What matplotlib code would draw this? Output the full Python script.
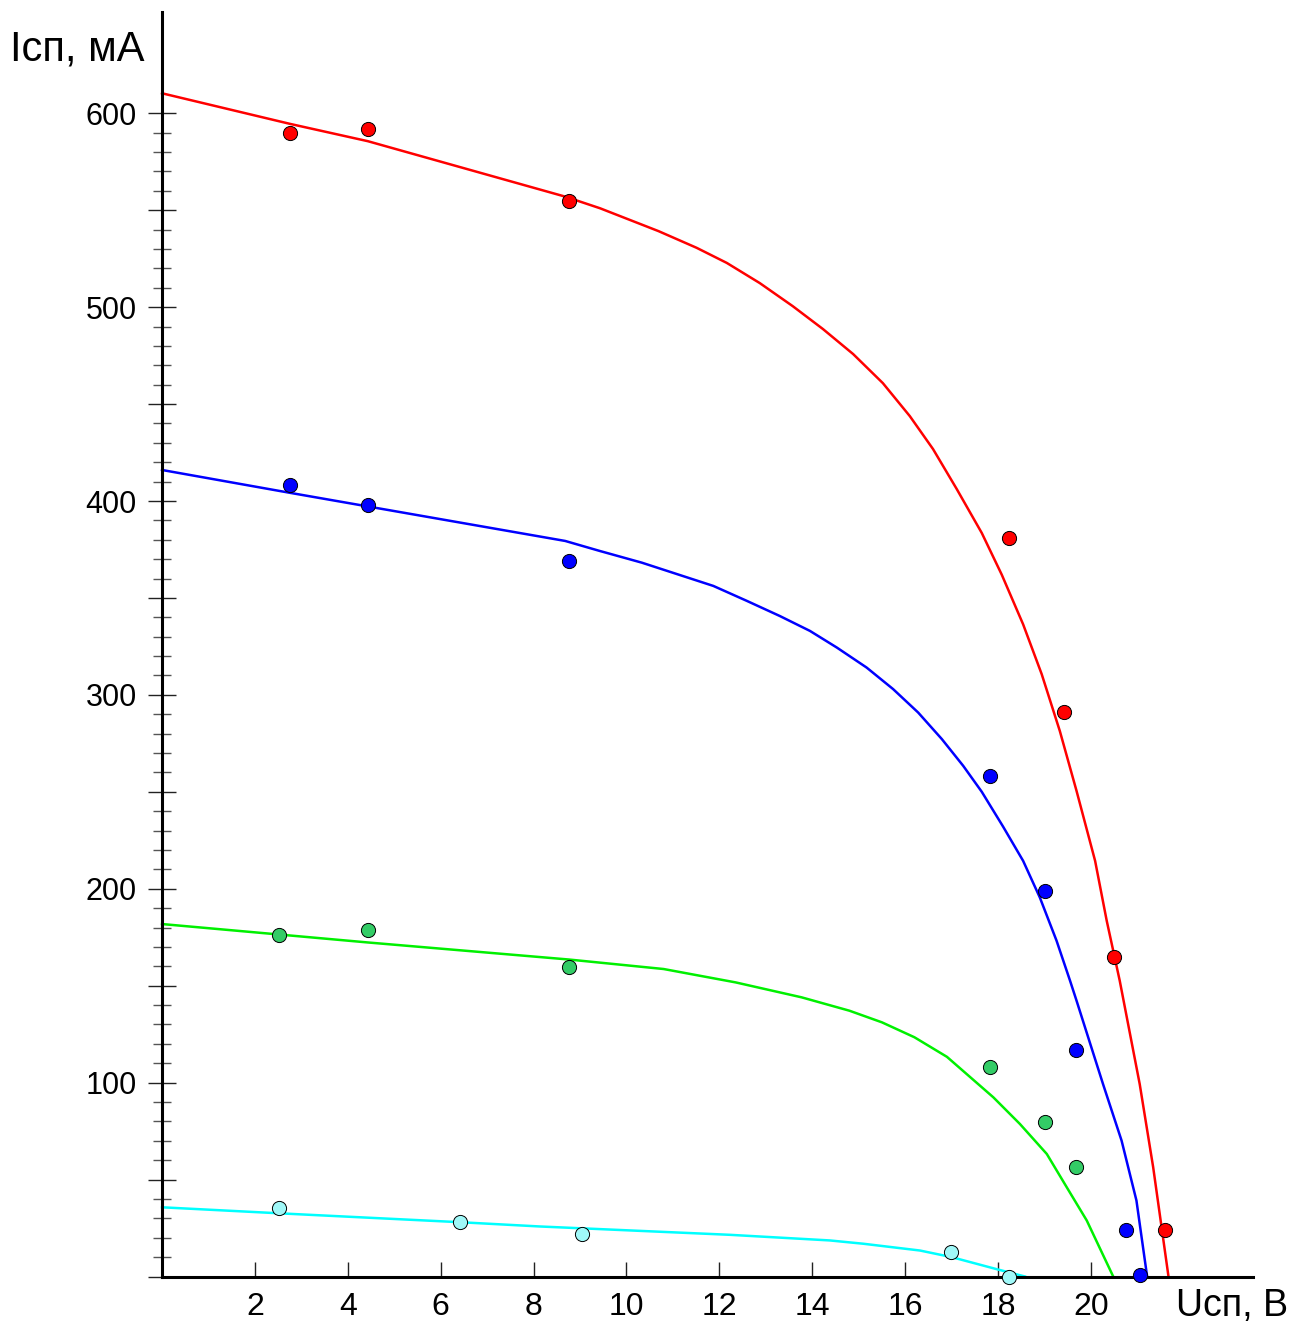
import matplotlib
matplotlib.use('Agg')
import matplotlib.pyplot as plt
from matplotlib.ticker import FixedLocator, FuncFormatter

plt.rcParams['font.family'] = ['Liberation Sans', 'DejaVu Sans']

# measured points (U, V ; I, mA)
u_red = [2.76, 4.43, 8.76, 18.23, 19.42, 20.50, 21.59]
i_red = [590, 592, 555, 381, 291, 165, 24]
u_blue = [2.76, 4.43, 8.76, 17.83, 19.01, 19.68, 20.75, 21.05]
i_blue = [408, 398, 369, 258, 199, 117, 24, 1]
u_green = [2.52, 4.43, 8.76, 17.83, 19.01, 19.68]
i_green = [176, 178.5, 159.5, 108, 79.5, 56.5]
u_cyan = [2.52, 6.42, 9.04, 16.99, 18.23]
i_cyan = [35.5, 28, 22, 12.5, 0]

# approximating curves
fit_u_red = [0, 2.76, 4.43, 8.68, 9.43, 10.69, 11.51, 12.16, 12.87, 13.58, 14.23, 14.88,
             15.52, 16.10, 16.60, 17.11, 17.65, 18.08, 18.54, 18.94, 19.33, 19.69, 20.09,
             20.34, 20.62, 21.05, 21.34, 21.67]
fit_i_red = [610.3, 594.5, 585.6, 557, 551, 539.2, 530.6, 522.8, 512.4, 500.5, 488.7, 475.8,
             460.8, 443.8, 426.8, 406.2, 383.5, 362, 336.4, 310.7, 281.4, 250.5, 214.4,
             183.5, 152.6, 99.3, 56.4, 0]
fit_u_blue = [0, 2.76, 4.43, 8.68, 9.43, 10.33, 11.87, 12.59, 13.30, 13.95, 14.53, 15.17,
              15.74, 16.28, 16.79, 17.25, 17.65, 18.11, 18.54, 18.90, 19.26, 19.55, 19.69,
              20.26, 20.66, 20.98, 21.21]
fit_i_blue = [416, 404.2, 397.2, 379.4, 374.2, 368.2, 356.2, 348.5, 340.7, 333, 324.4, 314.1,
              303, 290.9, 277.2, 263.4, 250, 232, 214.4, 195.5, 173.2, 152.6, 142.3,
              99.3, 70.1, 39.2, 0]
fit_u_green = [0, 2.52, 4.43, 8.76, 10.80, 12.35, 13.77, 14.80, 15.50, 16.20, 16.90, 17.90,
               18.47, 19.05, 19.48, 19.91, 20.48]
fit_i_green = [181.8, 176.4, 172.3, 163.5, 158.6, 151.7, 144, 137.1, 131.1, 123.4, 113.3, 92.4,
               78.7, 63.2, 46, 28.9, 0]
fit_u_cyan = [0, 2.52, 6.42, 8.14, 12.23, 14.38, 15.10, 16.32, 17.0, 18.0, 18.58]
fit_i_cyan = [35.7, 32.6, 28, 25.8, 21.5, 18.6, 16.9, 13.4, 10.0, 3.6, 0]

x_ticks = [2, 4, 6, 8, 10, 12, 14, 16, 18, 20]
y_major = list(range(0, 601, 50))
y_minor = list(range(0, 601, 10))


def main():
    fig = plt.figure(figsize=(13.1, 13.25), dpi=100)
    ax = fig.add_axes([0.1237, 0.0366, 0.8328, 0.9543])

    series = [
        (fit_u_red, fit_i_red, u_red, i_red, '#ff0000', '#ff0000'),
        (fit_u_blue, fit_i_blue, u_blue, i_blue, '#0000ff', '#0000ff'),
        (fit_u_green, fit_i_green, u_green, i_green, '#00f000', '#33cc66'),
        (fit_u_cyan, fit_i_cyan, u_cyan, i_cyan, '#00ffff', '#a0f8f8'),
    ]
    for fu, fi, pu, pi, lc, mc in series:
        ax.plot(fu, fi, color=lc, lw=1.8, zorder=3, clip_on=False)
        ax.plot(pu, pi, 'o', ms=10.2, mfc=mc, mec='black', mew=0.7, zorder=6, clip_on=False)

    ax.set_xlim(0, 23.49)
    ax.set_ylim(0, 652.2)

    for s in ['top', 'right']:
        ax.spines[s].set_visible(False)
    for s in ['left', 'bottom']:
        ax.spines[s].set_linewidth(2.2)
        ax.spines[s].set_zorder(4)

    # x axis ticks
    ax.xaxis.set_major_locator(FixedLocator(x_ticks))
    ax.xaxis.set_major_formatter(FuncFormatter(lambda v, p: '%d' % v))
    ax.tick_params(axis='x', direction='in', length=11, width=1.0, pad=11,
                   labelsize=23, color='#222222')

    # y axis ticks: long every 50, short every 10, labels every 100
    ax.yaxis.set_major_locator(FixedLocator(y_major))
    ax.yaxis.set_minor_locator(FixedLocator(y_minor))
    ax.yaxis.set_major_formatter(FuncFormatter(
        lambda v, p: '%d' % v if v > 0 and int(v) % 100 == 0 else ''))
    ax.tick_params(axis='y', which='major', direction='inout', length=19.5, width=1.0,
                   pad=8.3, labelsize=22, color='#222222')
    ax.tick_params(axis='y', which='minor', direction='inout', length=13, width=1.0,
                   color='#555555')

    fig.text(10 / 1310, 1 - 60 / 1325, 'Iсп, мА', fontsize=30, ha='left', va='baseline')
    fig.text(1176 / 1310, 1 - 1316 / 1325, 'Uсп, В', fontsize=27, ha='left', va='baseline')

    fig.savefig('out.png', dpi=100)


if __name__ == "__main__":
    main()
